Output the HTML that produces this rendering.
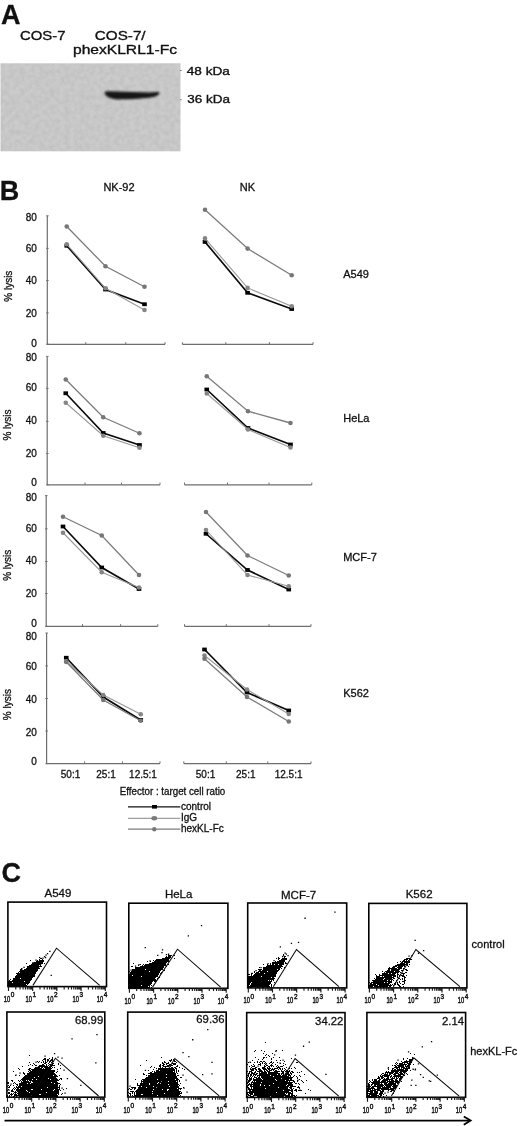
<!DOCTYPE html>
<html><head><meta charset="utf-8"><title>Figure</title>
<style>
html,body{margin:0;padding:0;background:#fff;}
svg{display:block;}
text{font-family:'Liberation Sans', Arial, sans-serif;fill:#111;stroke:#111;stroke-width:0.3px;}
.lb{stroke-width:0.45px;}
.hv{stroke-width:0.35px;}
</style></head><body>
<svg width="520" height="1126" viewBox="0 0 520 1126">
<defs>
<filter id="blur1" x="-20%" y="-50%" width="140%" height="200%"><feGaussianBlur stdDeviation="0.9"/></filter>
<filter id="soft" x="-2%" y="-2%" width="104%" height="104%"><feGaussianBlur stdDeviation="0.6"/></filter>
<filter id="noise" x="0" y="0" width="100%" height="100%"><feTurbulence type="fractalNoise" baseFrequency="0.2" numOctaves="2" seed="5" result="t"/><feColorMatrix in="t" type="matrix" values="0 0 0 0 0  0 0 0 0 0  0 0 0 0 0  0 0 0 -0.1 0.07"/><feComposite in2="SourceGraphic" operator="in"/></filter>
</defs>
<rect width="520" height="1126" fill="#fff"/>
<text x="0.9" y="23.8" font-size="27" font-weight="bold">A</text>
<text class="hv" x="20" y="39.9" font-size="13.3" textLength="45.5" lengthAdjust="spacingAndGlyphs">COS-7</text>
<text class="hv" x="94.8" y="40" font-size="13.3" textLength="50.8" lengthAdjust="spacingAndGlyphs">COS-7/</text>
<text class="hv" x="73" y="53.8" font-size="13.3" textLength="104" lengthAdjust="spacingAndGlyphs">phexKLRL1-Fc</text>
<rect x="0.5" y="63.3" width="180" height="88" fill="#cbcbcb" filter="url(#soft)"/>
<rect x="0.5" y="63.3" width="180" height="88" fill="#000" filter="url(#noise)"/>
<path d="M104.6,93.2 C104.4,91.6 106,91.2 110,91.3 L150,92.4 C154,92.3 157.5,91.8 159.3,92.3 C160,93.8 158.5,95.6 154.5,96.8 C146,98.6 132,99.4 118,99.4 C111,99.2 105.2,96.5 104.6,93.2 Z" fill="#141414" filter="url(#blur1)"/>
<rect x="180.3" y="70" width="1.2" height="1" fill="#555"/>
<rect x="180.3" y="99.2" width="1.2" height="1" fill="#555"/>
<text class="hv" x="186.8" y="74.5" font-size="11" textLength="43" lengthAdjust="spacingAndGlyphs">48 kDa</text>
<text class="hv" x="187.3" y="102.8" font-size="11" textLength="42.6" lengthAdjust="spacingAndGlyphs">36 kDa</text>
<text x="-0.3" y="199.9" font-size="27" font-weight="bold">B</text>
<text x="103.4" y="190.9" font-size="11">NK-92</text>
<text x="239.8" y="191.3" font-size="11">NK</text>
<path d="M47.3,215.8 V344.4 H165" fill="none" stroke="#6e6e6e" stroke-width="1.2"/>
<path d="M46.1,344.2 h2.6" stroke="#6e6e6e" stroke-width="0.9"/>
<text x="36.8" y="346.9" font-size="10" text-anchor="end">0</text>
<path d="M46.1,312.9 h2.6" stroke="#6e6e6e" stroke-width="0.9"/>
<text x="36.8" y="317.1" font-size="10" text-anchor="end">20</text>
<path d="M46.1,280.5 h2.6" stroke="#6e6e6e" stroke-width="0.9"/>
<text x="36.8" y="284.4" font-size="10" text-anchor="end">40</text>
<path d="M46.1,248.4 h2.6" stroke="#6e6e6e" stroke-width="0.9"/>
<text x="36.8" y="252" font-size="10" text-anchor="end">60</text>
<path d="M46.1,215.8 h2.6" stroke="#6e6e6e" stroke-width="0.9"/>
<text x="36.8" y="221.3" font-size="10" text-anchor="end">80</text>
<path d="M85.75,344.4 v-2.2" stroke="#6e6e6e" stroke-width="1"/>
<path d="M125.75,344.4 v-2.2" stroke="#6e6e6e" stroke-width="1"/>
<path d="M165,344.4 v-2.2" stroke="#6e6e6e" stroke-width="1"/>
<path d="M182.4,344.4 H313" fill="none" stroke="#6e6e6e" stroke-width="1.2"/>
<path d="M182.4,344.4 v-2.2" stroke="#6e6e6e" stroke-width="1"/>
<path d="M225.8,344.4 v-2.2" stroke="#6e6e6e" stroke-width="1"/>
<path d="M269.4,344.4 v-2.2" stroke="#6e6e6e" stroke-width="1"/>
<path d="M313,344.4 v-2.2" stroke="#6e6e6e" stroke-width="1"/>
<text transform="translate(11.6,286.2) rotate(-90)" font-size="10" text-anchor="middle">% lysis</text>
<text x="343.2" y="278.3" font-size="11">A549</text>
<polyline points="66.75,245.75 105.5,289.5 144.5,304.25" fill="none" stroke="#0a0a0a" stroke-width="1.65"/>
<rect x="64.45" y="243.85" width="4.6" height="3.8" fill="#000"/>
<rect x="103.2" y="287.6" width="4.6" height="3.8" fill="#000"/>
<rect x="142.2" y="302.35" width="4.6" height="3.8" fill="#000"/>
<polyline points="66.75,244.25 105.5,288.25 144.5,310" fill="none" stroke="#999" stroke-width="1.1"/>
<circle cx="66.75" cy="244.25" r="2.3" fill="#858585"/>
<circle cx="105.5" cy="288.25" r="2.3" fill="#858585"/>
<circle cx="144.5" cy="310" r="2.3" fill="#858585"/>
<polyline points="66.75,226.5 105.5,266.25 144.5,286.75" fill="none" stroke="#7c7c7c" stroke-width="1.3"/>
<circle cx="66.75" cy="226.5" r="2.3" fill="#777"/>
<circle cx="105.5" cy="266.25" r="2.3" fill="#777"/>
<circle cx="144.5" cy="286.75" r="2.3" fill="#777"/>
<polyline points="205,241.9 247.6,292.8 291.7,309" fill="none" stroke="#0a0a0a" stroke-width="1.65"/>
<rect x="202.7" y="240" width="4.6" height="3.8" fill="#000"/>
<rect x="245.3" y="290.9" width="4.6" height="3.8" fill="#000"/>
<rect x="289.4" y="307.1" width="4.6" height="3.8" fill="#000"/>
<polyline points="205,238.4 247.6,287.9 291.7,306.2" fill="none" stroke="#999" stroke-width="1.1"/>
<circle cx="205" cy="238.4" r="2.3" fill="#858585"/>
<circle cx="247.6" cy="287.9" r="2.3" fill="#858585"/>
<circle cx="291.7" cy="306.2" r="2.3" fill="#858585"/>
<polyline points="205,209.8 247.6,248.6 291.7,275.3" fill="none" stroke="#7c7c7c" stroke-width="1.3"/>
<circle cx="205" cy="209.8" r="2.3" fill="#777"/>
<circle cx="247.6" cy="248.6" r="2.3" fill="#777"/>
<circle cx="291.7" cy="275.3" r="2.3" fill="#777"/>
<path d="M47.2,356.4 V484.8 H160" fill="none" stroke="#6e6e6e" stroke-width="1.2"/>
<path d="M46,484.8 h2.6" stroke="#6e6e6e" stroke-width="0.9"/>
<text x="36.8" y="486.2" font-size="10" text-anchor="end">0</text>
<path d="M46,453.5 h2.6" stroke="#6e6e6e" stroke-width="0.9"/>
<text x="36.8" y="456.5" font-size="10" text-anchor="end">20</text>
<path d="M46,421.4 h2.6" stroke="#6e6e6e" stroke-width="0.9"/>
<text x="36.8" y="423.5" font-size="10" text-anchor="end">40</text>
<path d="M46,388.4 h2.6" stroke="#6e6e6e" stroke-width="0.9"/>
<text x="36.8" y="391.2" font-size="10" text-anchor="end">60</text>
<path d="M46,356.4 h2.6" stroke="#6e6e6e" stroke-width="0.9"/>
<text x="36.8" y="360.9" font-size="10" text-anchor="end">80</text>
<path d="M85,484.8 v-2.2" stroke="#6e6e6e" stroke-width="1"/>
<path d="M121.5,484.8 v-2.2" stroke="#6e6e6e" stroke-width="1"/>
<path d="M160,484.8 v-2.2" stroke="#6e6e6e" stroke-width="1"/>
<path d="M184.5,484.8 H311.8" fill="none" stroke="#6e6e6e" stroke-width="1.2"/>
<path d="M184.5,484.8 v-2.2" stroke="#6e6e6e" stroke-width="1"/>
<path d="M227.5,484.8 v-2.2" stroke="#6e6e6e" stroke-width="1"/>
<path d="M269,484.8 v-2.2" stroke="#6e6e6e" stroke-width="1"/>
<path d="M311.8,484.8 v-2.2" stroke="#6e6e6e" stroke-width="1"/>
<text transform="translate(10.8,425) rotate(-90)" font-size="10" text-anchor="middle">% lysis</text>
<text x="343.2" y="421.7" font-size="11">HeLa</text>
<polyline points="65.75,393.25 103.25,433 139.5,445" fill="none" stroke="#0a0a0a" stroke-width="1.65"/>
<rect x="63.45" y="391.35" width="4.6" height="3.8" fill="#000"/>
<rect x="100.95" y="431.1" width="4.6" height="3.8" fill="#000"/>
<rect x="137.2" y="443.1" width="4.6" height="3.8" fill="#000"/>
<polyline points="65.75,402.75 103.25,435.75 139.5,447.75" fill="none" stroke="#999" stroke-width="1.1"/>
<circle cx="65.75" cy="402.75" r="2.3" fill="#858585"/>
<circle cx="103.25" cy="435.75" r="2.3" fill="#858585"/>
<circle cx="139.5" cy="447.75" r="2.3" fill="#858585"/>
<polyline points="65.75,379.5 103.25,417.25 139.5,433.25" fill="none" stroke="#7c7c7c" stroke-width="1.3"/>
<circle cx="65.75" cy="379.5" r="2.3" fill="#777"/>
<circle cx="103.25" cy="417.25" r="2.3" fill="#777"/>
<circle cx="139.5" cy="433.25" r="2.3" fill="#777"/>
<polyline points="206.75,389.5 248,428 290.5,444.5" fill="none" stroke="#0a0a0a" stroke-width="1.65"/>
<rect x="204.45" y="387.6" width="4.6" height="3.8" fill="#000"/>
<rect x="245.7" y="426.1" width="4.6" height="3.8" fill="#000"/>
<rect x="288.2" y="442.6" width="4.6" height="3.8" fill="#000"/>
<polyline points="206.75,393.5 248,429.5 290.5,447.5" fill="none" stroke="#999" stroke-width="1.1"/>
<circle cx="206.75" cy="393.5" r="2.3" fill="#858585"/>
<circle cx="248" cy="429.5" r="2.3" fill="#858585"/>
<circle cx="290.5" cy="447.5" r="2.3" fill="#858585"/>
<polyline points="206.75,376.25 248,411.25 290.5,423" fill="none" stroke="#7c7c7c" stroke-width="1.3"/>
<circle cx="206.75" cy="376.25" r="2.3" fill="#777"/>
<circle cx="248" cy="411.25" r="2.3" fill="#777"/>
<circle cx="290.5" cy="423" r="2.3" fill="#777"/>
<path d="M46.2,495.6 V626.4 H157.8" fill="none" stroke="#6e6e6e" stroke-width="1.2"/>
<path d="M45,626.4 h2.6" stroke="#6e6e6e" stroke-width="0.9"/>
<text x="36.8" y="626.7" font-size="10" text-anchor="end">0</text>
<path d="M45,593.5 h2.6" stroke="#6e6e6e" stroke-width="0.9"/>
<text x="36.8" y="596.8" font-size="10" text-anchor="end">20</text>
<path d="M45,561.5 h2.6" stroke="#6e6e6e" stroke-width="0.9"/>
<text x="36.8" y="563.9" font-size="10" text-anchor="end">40</text>
<path d="M45,528.8 h2.6" stroke="#6e6e6e" stroke-width="0.9"/>
<text x="36.8" y="531.5" font-size="10" text-anchor="end">60</text>
<path d="M45,495.6 h2.6" stroke="#6e6e6e" stroke-width="0.9"/>
<text x="36.8" y="501.1" font-size="10" text-anchor="end">80</text>
<path d="M82.5,626.4 v-2.2" stroke="#6e6e6e" stroke-width="1"/>
<path d="M120.6,626.4 v-2.2" stroke="#6e6e6e" stroke-width="1"/>
<path d="M157.8,626.4 v-2.2" stroke="#6e6e6e" stroke-width="1"/>
<path d="M184.5,626.4 H311" fill="none" stroke="#6e6e6e" stroke-width="1.2"/>
<path d="M184.5,626.4 v-2.2" stroke="#6e6e6e" stroke-width="1"/>
<path d="M226.3,626.4 v-2.2" stroke="#6e6e6e" stroke-width="1"/>
<path d="M269,626.4 v-2.2" stroke="#6e6e6e" stroke-width="1"/>
<path d="M311,626.4 v-2.2" stroke="#6e6e6e" stroke-width="1"/>
<text transform="translate(10.8,565.3) rotate(-90)" font-size="10" text-anchor="middle">% lysis</text>
<text x="343.2" y="560.8" font-size="11">MCF-7</text>
<polyline points="63,526.5 101.75,567.5 139,589" fill="none" stroke="#0a0a0a" stroke-width="1.65"/>
<rect x="60.7" y="524.6" width="4.6" height="3.8" fill="#000"/>
<rect x="99.45" y="565.6" width="4.6" height="3.8" fill="#000"/>
<rect x="136.7" y="587.1" width="4.6" height="3.8" fill="#000"/>
<polyline points="63,532.75 101.75,572.25 139,587.5" fill="none" stroke="#999" stroke-width="1.1"/>
<circle cx="63" cy="532.75" r="2.3" fill="#858585"/>
<circle cx="101.75" cy="572.25" r="2.3" fill="#858585"/>
<circle cx="139" cy="587.5" r="2.3" fill="#858585"/>
<polyline points="63,516.75 101.75,535.5 139,575" fill="none" stroke="#7c7c7c" stroke-width="1.3"/>
<circle cx="63" cy="516.75" r="2.3" fill="#777"/>
<circle cx="101.75" cy="535.5" r="2.3" fill="#777"/>
<circle cx="139" cy="575" r="2.3" fill="#777"/>
<polyline points="206,533.75 247.5,570 288.75,589.5" fill="none" stroke="#0a0a0a" stroke-width="1.65"/>
<rect x="203.7" y="531.85" width="4.6" height="3.8" fill="#000"/>
<rect x="245.2" y="568.1" width="4.6" height="3.8" fill="#000"/>
<rect x="286.45" y="587.6" width="4.6" height="3.8" fill="#000"/>
<polyline points="206,530 247.5,575 288.75,586.25" fill="none" stroke="#999" stroke-width="1.1"/>
<circle cx="206" cy="530" r="2.3" fill="#858585"/>
<circle cx="247.5" cy="575" r="2.3" fill="#858585"/>
<circle cx="288.75" cy="586.25" r="2.3" fill="#858585"/>
<polyline points="206,512 247.5,555.5 288.75,575.5" fill="none" stroke="#7c7c7c" stroke-width="1.3"/>
<circle cx="206" cy="512" r="2.3" fill="#777"/>
<circle cx="247.5" cy="555.5" r="2.3" fill="#777"/>
<circle cx="288.75" cy="575.5" r="2.3" fill="#777"/>
<path d="M46.6,633 V763.6 H160" fill="none" stroke="#6e6e6e" stroke-width="1.2"/>
<path d="M45.4,763.6 h2.6" stroke="#6e6e6e" stroke-width="0.9"/>
<text x="36.8" y="765.3" font-size="10" text-anchor="end">0</text>
<path d="M45.4,731 h2.6" stroke="#6e6e6e" stroke-width="0.9"/>
<text x="36.8" y="735.5" font-size="10" text-anchor="end">20</text>
<path d="M45.4,698.5 h2.6" stroke="#6e6e6e" stroke-width="0.9"/>
<text x="36.8" y="702.5" font-size="10" text-anchor="end">40</text>
<path d="M45.4,665.9 h2.6" stroke="#6e6e6e" stroke-width="0.9"/>
<text x="36.8" y="670.2" font-size="10" text-anchor="end">60</text>
<path d="M45.4,633 h2.6" stroke="#6e6e6e" stroke-width="0.9"/>
<text x="36.8" y="640.1" font-size="10" text-anchor="end">80</text>
<path d="M84.6,763.6 v-2.2" stroke="#6e6e6e" stroke-width="1"/>
<path d="M122.5,763.6 v-2.2" stroke="#6e6e6e" stroke-width="1"/>
<path d="M160,763.6 v-2.2" stroke="#6e6e6e" stroke-width="1"/>
<path d="M183.8,763.6 H311" fill="none" stroke="#6e6e6e" stroke-width="1.2"/>
<path d="M183.8,763.6 v-2.2" stroke="#6e6e6e" stroke-width="1"/>
<path d="M226.3,763.6 v-2.2" stroke="#6e6e6e" stroke-width="1"/>
<path d="M267.8,763.6 v-2.2" stroke="#6e6e6e" stroke-width="1"/>
<path d="M311,763.6 v-2.2" stroke="#6e6e6e" stroke-width="1"/>
<text transform="translate(10.8,704.6) rotate(-90)" font-size="10" text-anchor="middle">% lysis</text>
<text x="343.2" y="696.7" font-size="11">K562</text>
<polyline points="66.25,657.75 103.25,697 140.75,720" fill="none" stroke="#0a0a0a" stroke-width="1.65"/>
<rect x="63.95" y="655.85" width="4.6" height="3.8" fill="#000"/>
<rect x="100.95" y="695.1" width="4.6" height="3.8" fill="#000"/>
<rect x="138.45" y="718.1" width="4.6" height="3.8" fill="#000"/>
<polyline points="66.25,661.25 103.25,695 140.75,714.25" fill="none" stroke="#999" stroke-width="1.1"/>
<circle cx="66.25" cy="661.25" r="2.3" fill="#858585"/>
<circle cx="103.25" cy="695" r="2.3" fill="#858585"/>
<circle cx="140.75" cy="714.25" r="2.3" fill="#858585"/>
<polyline points="66.25,662 103.25,700 140.75,720.75" fill="none" stroke="#7c7c7c" stroke-width="1.3"/>
<circle cx="66.25" cy="662" r="2.3" fill="#777"/>
<circle cx="103.25" cy="700" r="2.3" fill="#777"/>
<circle cx="140.75" cy="720.75" r="2.3" fill="#777"/>
<polyline points="204.5,649.5 247,692.5 288.75,710.5" fill="none" stroke="#0a0a0a" stroke-width="1.65"/>
<rect x="202.2" y="647.6" width="4.6" height="3.8" fill="#000"/>
<rect x="244.7" y="690.6" width="4.6" height="3.8" fill="#000"/>
<rect x="286.45" y="708.6" width="4.6" height="3.8" fill="#000"/>
<polyline points="204.5,655.5 247,689.5 288.75,714" fill="none" stroke="#999" stroke-width="1.1"/>
<circle cx="204.5" cy="655.5" r="2.3" fill="#858585"/>
<circle cx="247" cy="689.5" r="2.3" fill="#858585"/>
<circle cx="288.75" cy="714" r="2.3" fill="#858585"/>
<polyline points="204.5,658.75 247,697 288.75,721.5" fill="none" stroke="#7c7c7c" stroke-width="1.3"/>
<circle cx="204.5" cy="658.75" r="2.3" fill="#777"/>
<circle cx="247" cy="697" r="2.3" fill="#777"/>
<circle cx="288.75" cy="721.5" r="2.3" fill="#777"/>
<text x="70.5" y="778" font-size="10" text-anchor="middle">50:1</text>
<text x="106" y="778" font-size="10" text-anchor="middle">25:1</text>
<text x="143" y="778" font-size="10" text-anchor="middle">12.5:1</text>
<text x="205.5" y="778" font-size="10" text-anchor="middle">50:1</text>
<text x="245.8" y="778" font-size="10" text-anchor="middle">25:1</text>
<text x="288.6" y="778" font-size="10" text-anchor="middle">12.5:1</text>
<text x="119.8" y="794.5" font-size="10" textLength="105.5" lengthAdjust="spacingAndGlyphs">Effector : target cell ratio</text>
<path d="M128,806.8 H180.3" stroke="#111" stroke-width="1.3"/>
<rect x="152" y="805" width="5" height="3.6" fill="#000"/>
<text x="181" y="810.1" font-size="10">control</text>
<path d="M128,818.3 H180.3" stroke="#a0a0a0" stroke-width="1.2"/>
<ellipse cx="154.3" cy="818.3" rx="2.9" ry="2.2" fill="#7a7a7a"/>
<text x="181" y="820.9" font-size="10">IgG</text>
<path d="M128,829.2 H180.3" stroke="#7d7d7d" stroke-width="1.2"/>
<circle cx="154.3" cy="829.2" r="2.2" fill="#777"/>
<text x="181" y="832.3" font-size="10">hexKL-Fc</text>
<text x="1.4" y="881.9" font-size="27" font-weight="bold">C</text>
<text x="44.5" y="897.2" font-size="11.5">A549</text>
<text x="164.9" y="897.6" font-size="11.5">HeLa</text>
<text x="281" y="898.9" font-size="11.5">MCF-7</text>
<text x="405.7" y="898" font-size="11.5">K562</text>
<text x="471.6" y="948.1" font-size="11">control</text>
<text x="470.2" y="1055" font-size="11">hexKL-Fc</text>
<path d="M39 957h1v1h-1zM40 958h2v1h-2zM39 959h1v1h-1zM42 959h1v1h-1zM30 960h1v1h-1zM37 960h1v1h-1zM39 960h5v1h-5zM36 961h8v1h-8zM34 962h9v1h-9zM26 963h1v1h-1zM32 963h11v1h-11zM44 963h1v1h-1zM31 964h10v1h-10zM29 965h10v1h-10zM40 965h1v1h-1zM27 966h15v1h-15zM27 967h12v1h-12zM21 968h1v1h-1zM26 968h14v1h-14zM20 969h2v1h-2zM24 969h14v1h-14zM20 970h18v1h-18zM19 971h18v1h-18zM18 972h1v1h-1zM20 972h16v1h-16zM16 973h20v1h-20zM17 974h18v1h-18zM16 975h19v1h-19zM15 976h20v1h-20zM15 977h18v1h-18zM13 978h7v1h-7zM21 978h11v1h-11zM10 979h1v1h-1zM13 979h19v1h-19zM9 980h1v1h-1zM12 980h19v1h-19zM8 981h16v1h-16zM25 981h5v1h-5zM8 982h4v1h-4zM13 982h17v1h-17zM8 983h21v1h-21zM8 984h18v1h-18zM27 984h1v1h-1zM8 985h19v1h-19zM43.9 955.9h1.3v1.3h-1.3zM45.4 954.4h1.3v1.3h-1.3zM46.9 952.9h1.3v1.3h-1.3zM49.2 950.7h1.3v1.3h-1.3zM44.9 956.9h1.3v1.3h-1.3zM42.4 957.4h1.3v1.3h-1.3zM39.9 957.8h1.3v1.3h-1.3zM23.4 966.7h1.3v1.3h-1.3zM21.4 968.2h1.3v1.3h-1.3zM50.6 974.7h1.3v1.3h-1.3zM40.6 963h1.3v1.3h-1.3zM38 966.2h1.3v1.3h-1.3zM26.9 965.9h1.3v1.3h-1.3zM32.4 961.9h1.3v1.3h-1.3zM35.4 959.4h1.3v1.3h-1.3z" fill="#000"/>
<rect x="7.9" y="902.1" width="98.6" height="84.5" fill="none" stroke="#000" stroke-width="1.6"/>
<path d="M32.9,985.4 L56.5,948.2 L99.7,985.4" fill="none" stroke="#0a0a0a" stroke-width="1.05"/>
<path d="M8.5,986.6 v4.5 M15.78,986.6 v2.8 M20.05,986.6 v2.8 M23.07,986.6 v2.8 M25.42,986.6 v2.8 M27.33,986.6 v2.8 M28.95,986.6 v2.8 M30.35,986.6 v2.8 M31.59,986.6 v2.8 M32.7,986.6 v4.5 M39.98,986.6 v2.8 M44.25,986.6 v2.8 M47.27,986.6 v2.8 M49.62,986.6 v2.8 M51.53,986.6 v2.8 M53.15,986.6 v2.8 M54.55,986.6 v2.8 M55.79,986.6 v2.8 M56.9,986.6 v4.5 M64.18,986.6 v2.8 M68.45,986.6 v2.8 M71.47,986.6 v2.8 M73.82,986.6 v2.8 M75.73,986.6 v2.8 M77.35,986.6 v2.8 M78.75,986.6 v2.8 M79.99,986.6 v2.8 M81.1,986.6 v4.5 M88.38,986.6 v2.8 M92.65,986.6 v2.8 M95.67,986.6 v2.8 M98.02,986.6 v2.8 M99.93,986.6 v2.8 M101.55,986.6 v2.8 M102.95,986.6 v2.8 M104.19,986.6 v2.8 M105.3,986.6 v4.5" stroke="#1a1a1a" stroke-width="1.15"/>
<text x="3.7" y="1001.9" font-size="8.6" textLength="6.4" lengthAdjust="spacingAndGlyphs" class="lb">10</text>
<text x="10.7" y="997.3" font-size="7.4" textLength="3.6" lengthAdjust="spacingAndGlyphs" class="lb">0</text>
<text x="25.5" y="1001.9" font-size="8.6" textLength="6.4" lengthAdjust="spacingAndGlyphs" class="lb">10</text>
<text x="32.5" y="997.3" font-size="7.4" textLength="3.6" lengthAdjust="spacingAndGlyphs" class="lb">1</text>
<text x="47.1" y="1001.9" font-size="8.6" textLength="6.4" lengthAdjust="spacingAndGlyphs" class="lb">10</text>
<text x="54.1" y="997.3" font-size="7.4" textLength="3.6" lengthAdjust="spacingAndGlyphs" class="lb">2</text>
<text x="72.6" y="1001.9" font-size="8.6" textLength="6.4" lengthAdjust="spacingAndGlyphs" class="lb">10</text>
<text x="79.6" y="997.3" font-size="7.4" textLength="3.6" lengthAdjust="spacingAndGlyphs" class="lb">3</text>
<text x="96.8" y="1001.9" font-size="8.6" textLength="6.4" lengthAdjust="spacingAndGlyphs" class="lb">10</text>
<text x="103.8" y="997.3" font-size="7.4" textLength="3.6" lengthAdjust="spacingAndGlyphs" class="lb">4</text>
<path d="M168 955h4v1h-4zM174 955h1v1h-1zM166 956h1v1h-1zM168 956h3v1h-3zM165 957h6v1h-6zM162 958h8v1h-8zM174 958h1v1h-1zM156 959h13v1h-13zM153 960h1v1h-1zM155 960h14v1h-14zM147 961h1v1h-1zM150 961h1v1h-1zM154 961h15v1h-15zM152 962h15v1h-15zM133 963h1v1h-1zM149 963h17v1h-17zM140 964h1v1h-1zM143 964h1v1h-1zM145 964h21v1h-21zM167 964h2v1h-2zM138 965h1v1h-1zM142 965h1v1h-1zM144 965h22v1h-22zM131 966h2v1h-2zM140 966h24v1h-24zM166 966h1v1h-1zM135 967h29v1h-29zM135 968h28v1h-28zM132 969h13v1h-13zM146 969h17v1h-17zM132 970h29v1h-29zM164 970h1v1h-1zM129 971h1v1h-1zM131 971h18v1h-18zM150 971h10v1h-10zM130 972h30v1h-30zM161 972h1v1h-1zM130 973h29v1h-29zM160 973h1v1h-1zM129 974h30v1h-30zM129 975h3v1h-3zM133 975h25v1h-25zM129 976h12v1h-12zM142 976h16v1h-16zM129 977h27v1h-27zM158 977h2v1h-2zM129 978h26v1h-26zM157 978h1v1h-1zM129 979h27v1h-27zM129 980h28v1h-28zM129 981h24v1h-24zM154 981h2v1h-2zM129 982h23v1h-23zM129 983h23v1h-23zM129 984h22v1h-22zM129 985h12v1h-12zM142 985h8v1h-8zM151 985h1v1h-1zM129 986h19v1h-19zM149 986h1v1h-1zM129 987h21v1h-21zM151 987h1v1h-1zM144.6 947h1.3v1.3h-1.3zM161.3 952h1.3v1.3h-1.3zM157.1 954.8h1.3v1.3h-1.3zM165.8 954h1.3v1.3h-1.3zM161.9 949.2h1.3v1.3h-1.3zM187.7 935.2h1.3v1.3h-1.3zM200.9 924.9h1.3v1.3h-1.3zM149.4 960.2h1.3v1.3h-1.3zM138.4 963.9h1.3v1.3h-1.3zM134.9 965.4h1.3v1.3h-1.3zM167.9 953.6h1.3v1.3h-1.3zM130.4 969.4h1.3v1.3h-1.3z" fill="#000"/>
<rect x="128.8" y="903.2" width="99.1" height="85.1" fill="none" stroke="#000" stroke-width="1.6"/>
<path d="M152.5,987.1 L177.5,949.2 L220.6,987.1" fill="none" stroke="#0a0a0a" stroke-width="1.05"/>
<path d="M129.4,988.3 v4.5 M136.68,988.3 v2.8 M140.95,988.3 v2.8 M143.97,988.3 v2.8 M146.32,988.3 v2.8 M148.23,988.3 v2.8 M149.85,988.3 v2.8 M151.25,988.3 v2.8 M152.49,988.3 v2.8 M153.6,988.3 v4.5 M160.88,988.3 v2.8 M165.15,988.3 v2.8 M168.17,988.3 v2.8 M170.52,988.3 v2.8 M172.43,988.3 v2.8 M174.05,988.3 v2.8 M175.45,988.3 v2.8 M176.69,988.3 v2.8 M177.8,988.3 v4.5 M185.08,988.3 v2.8 M189.35,988.3 v2.8 M192.37,988.3 v2.8 M194.72,988.3 v2.8 M196.63,988.3 v2.8 M198.25,988.3 v2.8 M199.65,988.3 v2.8 M200.89,988.3 v2.8 M202,988.3 v4.5 M209.28,988.3 v2.8 M213.55,988.3 v2.8 M216.57,988.3 v2.8 M218.92,988.3 v2.8 M220.83,988.3 v2.8 M222.45,988.3 v2.8 M223.85,988.3 v2.8 M225.09,988.3 v2.8 M226.2,988.3 v4.5" stroke="#1a1a1a" stroke-width="1.15"/>
<text x="124.6" y="1003.6" font-size="8.6" textLength="6.4" lengthAdjust="spacingAndGlyphs" class="lb">10</text>
<text x="131.6" y="999" font-size="7.4" textLength="3.6" lengthAdjust="spacingAndGlyphs" class="lb">0</text>
<text x="146.4" y="1003.6" font-size="8.6" textLength="6.4" lengthAdjust="spacingAndGlyphs" class="lb">10</text>
<text x="153.4" y="999" font-size="7.4" textLength="3.6" lengthAdjust="spacingAndGlyphs" class="lb">1</text>
<text x="168" y="1003.6" font-size="8.6" textLength="6.4" lengthAdjust="spacingAndGlyphs" class="lb">10</text>
<text x="175" y="999" font-size="7.4" textLength="3.6" lengthAdjust="spacingAndGlyphs" class="lb">2</text>
<text x="193.5" y="1003.6" font-size="8.6" textLength="6.4" lengthAdjust="spacingAndGlyphs" class="lb">10</text>
<text x="200.5" y="999" font-size="7.4" textLength="3.6" lengthAdjust="spacingAndGlyphs" class="lb">3</text>
<text x="217.7" y="1003.6" font-size="8.6" textLength="6.4" lengthAdjust="spacingAndGlyphs" class="lb">10</text>
<text x="224.7" y="999" font-size="7.4" textLength="3.6" lengthAdjust="spacingAndGlyphs" class="lb">4</text>
<path d="M283 954h1v1h-1zM283 955h1v1h-1zM284 956h2v1h-2zM278 957h1v1h-1zM284 957h1v1h-1zM276 958h1v1h-1zM278 958h2v1h-2zM282 958h5v1h-5zM278 959h1v1h-1zM281 959h6v1h-6zM279 960h6v1h-6zM275 961h1v1h-1zM277 961h8v1h-8zM272 962h12v1h-12zM285 962h1v1h-1zM270 963h1v1h-1zM272 963h12v1h-12zM285 963h2v1h-2zM263 964h1v1h-1zM267 964h1v1h-1zM270 964h1v1h-1zM272 964h2v1h-2zM275 964h3v1h-3zM279 964h5v1h-5zM267 965h15v1h-15zM266 966h17v1h-17zM259 967h1v1h-1zM263 967h18v1h-18zM284 967h1v1h-1zM263 968h17v1h-17zM281 968h1v1h-1zM258 969h4v1h-4zM263 969h14v1h-14zM278 969h2v1h-2zM259 970h2v1h-2zM262 970h17v1h-17zM254 971h1v1h-1zM258 971h9v1h-9zM268 971h10v1h-10zM254 972h1v1h-1zM256 972h3v1h-3zM260 972h17v1h-17zM251 973h2v1h-2zM255 973h9v1h-9zM265 973h12v1h-12zM248 974h2v1h-2zM251 974h1v1h-1zM254 974h22v1h-22zM251 975h1v1h-1zM253 975h23v1h-23zM248 976h13v1h-13zM262 976h14v1h-14zM248 977h23v1h-23zM272 977h2v1h-2zM248 978h27v1h-27zM248 979h26v1h-26zM248 980h20v1h-20zM269 980h1v1h-1zM271 980h1v1h-1zM273 980h1v1h-1zM248 981h24v1h-24zM248 982h3v1h-3zM252 982h19v1h-19zM274 982h1v1h-1zM248 983h2v1h-2zM251 983h20v1h-20zM248 984h2v1h-2zM251 984h19v1h-19zM271 984h1v1h-1zM274 984h1v1h-1zM248 985h1v1h-1zM250 985h19v1h-19zM271 985h1v1h-1zM248 986h22v1h-22zM271 986h1v1h-1zM248 987h1v1h-1zM250 987h2v1h-2zM257 987h2v1h-2zM262 987h2v1h-2zM267 987h1v1h-1zM270 987h1v1h-1zM279.7 946.2h1.3v1.3h-1.3zM290.8 942.8h1.3v1.3h-1.3zM297.9 941.8h1.3v1.3h-1.3zM304.4 917.6h1.3v1.3h-1.3zM334.3 911.5h1.3v1.3h-1.3zM285.7 953.5h1.3v1.3h-1.3zM282.9 954.9h1.3v1.3h-1.3zM281.9 956h1.3v1.3h-1.3zM273.4 960h1.3v1.3h-1.3zM267.4 962.9h1.3v1.3h-1.3zM260.4 967h1.3v1.3h-1.3zM255.4 969.9h1.3v1.3h-1.3zM251.4 972.8h1.3v1.3h-1.3zM287.4 954.9h1.3v1.3h-1.3zM284.4 952.4h1.3v1.3h-1.3z" fill="#000"/>
<rect x="247.7" y="903" width="99" height="84.9" fill="none" stroke="#000" stroke-width="1.6"/>
<path d="M273.3,986.7 L296.5,949.5 L338.9,986.7" fill="none" stroke="#0a0a0a" stroke-width="1.05"/>
<path d="M248.3,987.9 v4.5 M255.58,987.9 v2.8 M259.85,987.9 v2.8 M262.87,987.9 v2.8 M265.22,987.9 v2.8 M267.13,987.9 v2.8 M268.75,987.9 v2.8 M270.15,987.9 v2.8 M271.39,987.9 v2.8 M272.5,987.9 v4.5 M279.78,987.9 v2.8 M284.05,987.9 v2.8 M287.07,987.9 v2.8 M289.42,987.9 v2.8 M291.33,987.9 v2.8 M292.95,987.9 v2.8 M294.35,987.9 v2.8 M295.59,987.9 v2.8 M296.7,987.9 v4.5 M303.98,987.9 v2.8 M308.25,987.9 v2.8 M311.27,987.9 v2.8 M313.62,987.9 v2.8 M315.53,987.9 v2.8 M317.15,987.9 v2.8 M318.55,987.9 v2.8 M319.79,987.9 v2.8 M320.9,987.9 v4.5 M328.18,987.9 v2.8 M332.45,987.9 v2.8 M335.47,987.9 v2.8 M337.82,987.9 v2.8 M339.73,987.9 v2.8 M341.35,987.9 v2.8 M342.75,987.9 v2.8 M343.99,987.9 v2.8 M345.1,987.9 v4.5" stroke="#1a1a1a" stroke-width="1.15"/>
<text x="243.5" y="1003.2" font-size="8.6" textLength="6.4" lengthAdjust="spacingAndGlyphs" class="lb">10</text>
<text x="250.5" y="998.6" font-size="7.4" textLength="3.6" lengthAdjust="spacingAndGlyphs" class="lb">0</text>
<text x="265.3" y="1003.2" font-size="8.6" textLength="6.4" lengthAdjust="spacingAndGlyphs" class="lb">10</text>
<text x="272.3" y="998.6" font-size="7.4" textLength="3.6" lengthAdjust="spacingAndGlyphs" class="lb">1</text>
<text x="286.9" y="1003.2" font-size="8.6" textLength="6.4" lengthAdjust="spacingAndGlyphs" class="lb">10</text>
<text x="293.9" y="998.6" font-size="7.4" textLength="3.6" lengthAdjust="spacingAndGlyphs" class="lb">2</text>
<text x="312.4" y="1003.2" font-size="8.6" textLength="6.4" lengthAdjust="spacingAndGlyphs" class="lb">10</text>
<text x="319.4" y="998.6" font-size="7.4" textLength="3.6" lengthAdjust="spacingAndGlyphs" class="lb">3</text>
<text x="336.6" y="1003.2" font-size="8.6" textLength="6.4" lengthAdjust="spacingAndGlyphs" class="lb">10</text>
<text x="343.6" y="998.6" font-size="7.4" textLength="3.6" lengthAdjust="spacingAndGlyphs" class="lb">4</text>
<path d="M406 958h4v1h-4zM404 959h4v1h-4zM409 959h3v1h-3zM403 960h2v1h-2zM406 960h1v1h-1zM408 960h1v1h-1zM400 961h1v1h-1zM402 961h6v1h-6zM409 961h1v1h-1zM397 962h1v1h-1zM401 962h2v1h-2zM404 962h6v1h-6zM400 963h5v1h-5zM406 963h1v1h-1zM397 964h11v1h-11zM409 964h1v1h-1zM395 965h10v1h-10zM407 965h1v1h-1zM393 966h4v1h-4zM398 966h5v1h-5zM404 966h1v1h-1zM408 966h1v1h-1zM389 967h1v1h-1zM392 967h3v1h-3zM397 967h5v1h-5zM388 968h9v1h-9zM398 968h4v1h-4zM403 968h1v1h-1zM388 969h2v1h-2zM391 969h9v1h-9zM405 969h2v1h-2zM387 970h3v1h-3zM391 970h8v1h-8zM401 970h2v1h-2zM406 970h2v1h-2zM382 971h1v1h-1zM385 971h9v1h-9zM395 971h5v1h-5zM384 972h1v1h-1zM386 972h13v1h-13zM400 972h1v1h-1zM405 972h2v1h-2zM382 973h6v1h-6zM389 973h2v1h-2zM392 973h4v1h-4zM397 973h1v1h-1zM402 973h3v1h-3zM375 974h1v1h-1zM379 974h1v1h-1zM382 974h13v1h-13zM397 974h2v1h-2zM400 974h1v1h-1zM403 974h1v1h-1zM376 975h1v1h-1zM379 975h17v1h-17zM397 975h1v1h-1zM399 975h1v1h-1zM401 975h3v1h-3zM406 975h1v1h-1zM376 976h4v1h-4zM382 976h1v1h-1zM384 976h8v1h-8zM393 976h3v1h-3zM397 976h1v1h-1zM399 976h1v1h-1zM402 976h3v1h-3zM376 977h18v1h-18zM397 977h1v1h-1zM404 977h2v1h-2zM374 978h1v1h-1zM376 978h8v1h-8zM385 978h7v1h-7zM393 978h2v1h-2zM398 978h2v1h-2zM402 978h1v1h-1zM404 978h1v1h-1zM375 979h8v1h-8zM384 979h9v1h-9zM400 979h1v1h-1zM402 979h1v1h-1zM404 979h1v1h-1zM372 980h15v1h-15zM388 980h2v1h-2zM391 980h1v1h-1zM393 980h1v1h-1zM396 980h1v1h-1zM404 980h2v1h-2zM373 981h19v1h-19zM399 981h1v1h-1zM402 981h3v1h-3zM369 982h1v1h-1zM371 982h13v1h-13zM385 982h2v1h-2zM388 982h4v1h-4zM395 982h1v1h-1zM397 982h1v1h-1zM399 982h1v1h-1zM404 982h1v1h-1zM370 983h2v1h-2zM373 983h17v1h-17zM394 983h2v1h-2zM397 983h1v1h-1zM400 983h1v1h-1zM404 983h1v1h-1zM370 984h6v1h-6zM377 984h12v1h-12zM390 984h1v1h-1zM392 984h1v1h-1zM394 984h2v1h-2zM397 984h2v1h-2zM402 984h2v1h-2zM369 985h9v1h-9zM379 985h13v1h-13zM393 985h1v1h-1zM398 985h2v1h-2zM369 986h4v1h-4zM374 986h14v1h-14zM389 986h2v1h-2zM399 986h2v1h-2zM403 986h1v1h-1zM371 987h1v1h-1zM377 987h1v1h-1zM380 987h1v1h-1zM383 987h1v1h-1zM388 987h1v1h-1zM414.5 939.8h1.3v1.3h-1.3zM423 949.9h1.3v1.3h-1.3zM417.9 952.6h1.3v1.3h-1.3zM411.4 954.9h1.3v1.3h-1.3zM408.4 955.4h1.3v1.3h-1.3z" fill="#000"/>
<rect x="368.8" y="903.4" width="98.1" height="84.5" fill="none" stroke="#000" stroke-width="1.6"/>
<path d="M393.3,986.7 L415.9,949.5 L459.9,986.7" fill="none" stroke="#0a0a0a" stroke-width="1.05"/>
<path d="M369.4,987.9 v4.5 M376.68,987.9 v2.8 M380.95,987.9 v2.8 M383.97,987.9 v2.8 M386.32,987.9 v2.8 M388.23,987.9 v2.8 M389.85,987.9 v2.8 M391.25,987.9 v2.8 M392.49,987.9 v2.8 M393.6,987.9 v4.5 M400.88,987.9 v2.8 M405.15,987.9 v2.8 M408.17,987.9 v2.8 M410.52,987.9 v2.8 M412.43,987.9 v2.8 M414.05,987.9 v2.8 M415.45,987.9 v2.8 M416.69,987.9 v2.8 M417.8,987.9 v4.5 M425.08,987.9 v2.8 M429.35,987.9 v2.8 M432.37,987.9 v2.8 M434.72,987.9 v2.8 M436.63,987.9 v2.8 M438.25,987.9 v2.8 M439.65,987.9 v2.8 M440.89,987.9 v2.8 M442,987.9 v4.5 M449.28,987.9 v2.8 M453.55,987.9 v2.8 M456.57,987.9 v2.8 M458.92,987.9 v2.8 M460.83,987.9 v2.8 M462.45,987.9 v2.8 M463.85,987.9 v2.8 M465.09,987.9 v2.8 M466.2,987.9 v4.5" stroke="#1a1a1a" stroke-width="1.15"/>
<text x="364.6" y="1003.2" font-size="8.6" textLength="6.4" lengthAdjust="spacingAndGlyphs" class="lb">10</text>
<text x="371.6" y="998.6" font-size="7.4" textLength="3.6" lengthAdjust="spacingAndGlyphs" class="lb">0</text>
<text x="386.4" y="1003.2" font-size="8.6" textLength="6.4" lengthAdjust="spacingAndGlyphs" class="lb">10</text>
<text x="393.4" y="998.6" font-size="7.4" textLength="3.6" lengthAdjust="spacingAndGlyphs" class="lb">1</text>
<text x="408" y="1003.2" font-size="8.6" textLength="6.4" lengthAdjust="spacingAndGlyphs" class="lb">10</text>
<text x="415" y="998.6" font-size="7.4" textLength="3.6" lengthAdjust="spacingAndGlyphs" class="lb">2</text>
<text x="433.5" y="1003.2" font-size="8.6" textLength="6.4" lengthAdjust="spacingAndGlyphs" class="lb">10</text>
<text x="440.5" y="998.6" font-size="7.4" textLength="3.6" lengthAdjust="spacingAndGlyphs" class="lb">3</text>
<text x="457.7" y="1003.2" font-size="8.6" textLength="6.4" lengthAdjust="spacingAndGlyphs" class="lb">10</text>
<text x="464.7" y="998.6" font-size="7.4" textLength="3.6" lengthAdjust="spacingAndGlyphs" class="lb">4</text>
<path d="M29 1055h1v1h-1zM52 1057h1v1h-1zM44 1058h2v1h-2zM49 1058h1v1h-1zM52 1058h1v1h-1zM43 1059h3v1h-3zM47 1059h2v1h-2zM51 1059h2v1h-2zM42 1060h1v1h-1zM45 1060h1v1h-1zM47 1060h2v1h-2zM50 1060h3v1h-3zM37 1061h1v1h-1zM39 1061h1v1h-1zM43 1061h1v1h-1zM45 1061h1v1h-1zM47 1061h1v1h-1zM49 1061h2v1h-2zM52 1061h2v1h-2zM29 1062h1v1h-1zM38 1062h1v1h-1zM41 1062h1v1h-1zM43 1062h1v1h-1zM45 1062h2v1h-2zM49 1062h1v1h-1zM51 1062h1v1h-1zM33 1063h1v1h-1zM44 1063h2v1h-2zM48 1063h1v1h-1zM52 1063h2v1h-2zM58 1063h1v1h-1zM30 1064h1v1h-1zM34 1064h1v1h-1zM42 1064h2v1h-2zM46 1064h1v1h-1zM49 1064h2v1h-2zM52 1064h1v1h-1zM58 1064h1v1h-1zM28 1065h1v1h-1zM32 1065h1v1h-1zM35 1065h2v1h-2zM39 1065h6v1h-6zM46 1065h1v1h-1zM48 1065h1v1h-1zM50 1065h5v1h-5zM60 1065h1v1h-1zM22 1066h1v1h-1zM38 1066h10v1h-10zM49 1066h3v1h-3zM35 1067h5v1h-5zM41 1067h2v1h-2zM44 1067h7v1h-7zM52 1067h1v1h-1zM54 1067h1v1h-1zM18 1068h1v1h-1zM29 1068h2v1h-2zM34 1068h8v1h-8zM43 1068h1v1h-1zM45 1068h7v1h-7zM60 1068h1v1h-1zM19 1069h1v1h-1zM28 1069h2v1h-2zM31 1069h20v1h-20zM57 1069h1v1h-1zM29 1070h2v1h-2zM32 1070h23v1h-23zM13 1071h1v1h-1zM28 1071h1v1h-1zM30 1071h25v1h-25zM57 1071h1v1h-1zM23 1072h1v1h-1zM29 1072h25v1h-25zM56 1072h1v1h-1zM23 1073h2v1h-2zM27 1073h28v1h-28zM24 1074h1v1h-1zM27 1074h29v1h-29zM15 1075h1v1h-1zM19 1075h1v1h-1zM25 1075h28v1h-28zM54 1075h3v1h-3zM59 1075h1v1h-1zM24 1076h14v1h-14zM39 1076h19v1h-19zM23 1077h11v1h-11zM35 1077h21v1h-21zM22 1078h26v1h-26zM49 1078h8v1h-8zM60 1078h2v1h-2zM21 1079h11v1h-11zM33 1079h3v1h-3zM37 1079h13v1h-13zM51 1079h7v1h-7zM59 1079h1v1h-1zM61 1079h1v1h-1zM11 1080h2v1h-2zM18 1080h1v1h-1zM20 1080h1v1h-1zM22 1080h4v1h-4zM27 1080h1v1h-1zM29 1080h30v1h-30zM12 1081h1v1h-1zM19 1081h1v1h-1zM21 1081h1v1h-1zM23 1081h6v1h-6zM30 1081h1v1h-1zM32 1081h25v1h-25zM7 1082h2v1h-2zM14 1082h1v1h-1zM21 1082h10v1h-10zM33 1082h18v1h-18zM52 1082h6v1h-6zM7 1083h2v1h-2zM13 1083h1v1h-1zM15 1083h1v1h-1zM19 1083h8v1h-8zM28 1083h2v1h-2zM31 1083h23v1h-23zM55 1083h5v1h-5zM16 1084h2v1h-2zM19 1084h39v1h-39zM60 1084h1v1h-1zM8 1085h1v1h-1zM10 1085h1v1h-1zM13 1085h1v1h-1zM17 1085h1v1h-1zM19 1085h39v1h-39zM59 1085h1v1h-1zM7 1086h1v1h-1zM9 1086h1v1h-1zM16 1086h1v1h-1zM18 1086h3v1h-3zM22 1086h36v1h-36zM59 1086h1v1h-1zM8 1087h2v1h-2zM14 1087h1v1h-1zM16 1087h31v1h-31zM48 1087h12v1h-12zM13 1088h1v1h-1zM15 1088h1v1h-1zM17 1088h2v1h-2zM20 1088h38v1h-38zM59 1088h1v1h-1zM66 1088h1v1h-1zM8 1089h1v1h-1zM12 1089h1v1h-1zM14 1089h1v1h-1zM16 1089h15v1h-15zM33 1089h8v1h-8zM42 1089h12v1h-12zM55 1089h5v1h-5zM63 1089h1v1h-1zM7 1090h1v1h-1zM11 1090h2v1h-2zM16 1090h10v1h-10zM27 1090h26v1h-26zM54 1090h5v1h-5zM60 1090h1v1h-1zM11 1091h3v1h-3zM15 1091h1v1h-1zM17 1091h10v1h-10zM28 1091h31v1h-31zM8 1092h2v1h-2zM14 1092h3v1h-3zM18 1092h11v1h-11zM30 1092h16v1h-16zM47 1092h12v1h-12zM8 1093h2v1h-2zM11 1093h1v1h-1zM13 1093h1v1h-1zM15 1093h1v1h-1zM17 1093h42v1h-42zM62 1093h1v1h-1zM10 1094h3v1h-3zM14 1094h3v1h-3zM18 1094h21v1h-21zM41 1094h16v1h-16zM58 1094h1v1h-1zM61 1094h1v1h-1zM7 1095h1v1h-1zM9 1095h1v1h-1zM11 1095h1v1h-1zM14 1095h17v1h-17zM32 1095h26v1h-26zM7 1096h1v1h-1zM9 1096h1v1h-1zM13 1096h2v1h-2zM16 1096h1v1h-1zM19 1096h39v1h-39zM53.9 1052.9h1.3v1.3h-1.3zM57.4 1056.4h1.3v1.3h-1.3zM61.4 1057.4h1.3v1.3h-1.3zM44.4 1055.4h1.3v1.3h-1.3zM35.4 1061.4h1.3v1.3h-1.3zM19.4 1072.4h1.3v1.3h-1.3zM15.4 1074.4h1.3v1.3h-1.3zM10.4 1083.4h1.3v1.3h-1.3zM8.4 1089.4h1.3v1.3h-1.3zM71.4 1038.2h1.3v1.3h-1.3zM96.3 1034h1.3v1.3h-1.3zM95.2 1062.2h1.3v1.3h-1.3zM80.2 1084.8h1.3v1.3h-1.3zM66.8 1077.9h1.3v1.3h-1.3zM63.4 1069.4h1.3v1.3h-1.3zM61.4 1087.4h1.3v1.3h-1.3zM64.4 1092.4h1.3v1.3h-1.3z" fill="#000"/>
<rect x="6.9" y="1012" width="97.9" height="85.2" fill="none" stroke="#000" stroke-width="1.6"/>
<path d="M31.4,1096 L55.4,1058.2 L98.6,1096" fill="none" stroke="#0a0a0a" stroke-width="1.05"/>
<path d="M7.5,1097.2 v4.5 M14.78,1097.2 v2.8 M19.05,1097.2 v2.8 M22.07,1097.2 v2.8 M24.42,1097.2 v2.8 M26.33,1097.2 v2.8 M27.95,1097.2 v2.8 M29.35,1097.2 v2.8 M30.59,1097.2 v2.8 M31.7,1097.2 v4.5 M38.98,1097.2 v2.8 M43.25,1097.2 v2.8 M46.27,1097.2 v2.8 M48.62,1097.2 v2.8 M50.53,1097.2 v2.8 M52.15,1097.2 v2.8 M53.55,1097.2 v2.8 M54.79,1097.2 v2.8 M55.9,1097.2 v4.5 M63.18,1097.2 v2.8 M67.45,1097.2 v2.8 M70.47,1097.2 v2.8 M72.82,1097.2 v2.8 M74.73,1097.2 v2.8 M76.35,1097.2 v2.8 M77.75,1097.2 v2.8 M78.99,1097.2 v2.8 M80.1,1097.2 v4.5 M87.38,1097.2 v2.8 M91.65,1097.2 v2.8 M94.67,1097.2 v2.8 M97.02,1097.2 v2.8 M98.93,1097.2 v2.8 M100.55,1097.2 v2.8 M101.95,1097.2 v2.8 M103.19,1097.2 v2.8 M104.3,1097.2 v4.5" stroke="#1a1a1a" stroke-width="1.15"/>
<text x="2.7" y="1113" font-size="8.6" textLength="6.4" lengthAdjust="spacingAndGlyphs" class="lb">10</text>
<text x="9.7" y="1108.4" font-size="7.4" textLength="3.6" lengthAdjust="spacingAndGlyphs" class="lb">0</text>
<text x="24.5" y="1113" font-size="8.6" textLength="6.4" lengthAdjust="spacingAndGlyphs" class="lb">10</text>
<text x="31.5" y="1108.4" font-size="7.4" textLength="3.6" lengthAdjust="spacingAndGlyphs" class="lb">1</text>
<text x="46.1" y="1113" font-size="8.6" textLength="6.4" lengthAdjust="spacingAndGlyphs" class="lb">10</text>
<text x="53.1" y="1108.4" font-size="7.4" textLength="3.6" lengthAdjust="spacingAndGlyphs" class="lb">2</text>
<text x="71.6" y="1113" font-size="8.6" textLength="6.4" lengthAdjust="spacingAndGlyphs" class="lb">10</text>
<text x="78.6" y="1108.4" font-size="7.4" textLength="3.6" lengthAdjust="spacingAndGlyphs" class="lb">3</text>
<text x="95.8" y="1113" font-size="8.6" textLength="6.4" lengthAdjust="spacingAndGlyphs" class="lb">10</text>
<text x="102.8" y="1108.4" font-size="7.4" textLength="3.6" lengthAdjust="spacingAndGlyphs" class="lb">4</text>
<text x="103.2" y="1024" font-size="11.3" text-anchor="end">68.99</text>
<path d="M161 1057h1v1h-1zM171 1059h1v1h-1zM173 1059h1v1h-1zM146 1060h1v1h-1zM169 1060h3v1h-3zM174 1060h1v1h-1zM164 1061h1v1h-1zM170 1061h1v1h-1zM174 1061h2v1h-2zM162 1062h1v1h-1zM164 1062h2v1h-2zM168 1062h1v1h-1zM176 1062h1v1h-1zM162 1063h2v1h-2zM166 1063h3v1h-3zM172 1063h4v1h-4zM160 1064h1v1h-1zM163 1064h2v1h-2zM166 1064h1v1h-1zM169 1064h2v1h-2zM173 1064h3v1h-3zM140 1065h1v1h-1zM159 1065h2v1h-2zM162 1065h2v1h-2zM167 1065h3v1h-3zM171 1065h2v1h-2zM177 1065h1v1h-1zM151 1066h1v1h-1zM159 1066h2v1h-2zM163 1066h6v1h-6zM170 1066h1v1h-1zM176 1066h2v1h-2zM150 1067h1v1h-1zM154 1067h1v1h-1zM160 1067h1v1h-1zM162 1067h1v1h-1zM165 1067h1v1h-1zM171 1067h2v1h-2zM174 1067h2v1h-2zM179 1067h1v1h-1zM156 1068h1v1h-1zM158 1068h16v1h-16zM175 1068h2v1h-2zM182 1068h1v1h-1zM153 1069h1v1h-1zM158 1069h17v1h-17zM176 1069h1v1h-1zM184 1069h1v1h-1zM187 1069h1v1h-1zM148 1070h1v1h-1zM156 1070h3v1h-3zM160 1070h15v1h-15zM176 1070h1v1h-1zM178 1070h1v1h-1zM152 1071h1v1h-1zM154 1071h1v1h-1zM156 1071h17v1h-17zM174 1071h1v1h-1zM176 1071h1v1h-1zM178 1071h1v1h-1zM150 1072h2v1h-2zM154 1072h21v1h-21zM176 1072h1v1h-1zM143 1073h1v1h-1zM148 1073h28v1h-28zM177 1073h1v1h-1zM143 1074h2v1h-2zM150 1074h16v1h-16zM167 1074h9v1h-9zM146 1075h1v1h-1zM148 1075h28v1h-28zM177 1075h2v1h-2zM148 1076h29v1h-29zM146 1077h20v1h-20zM167 1077h10v1h-10zM180 1077h2v1h-2zM145 1078h33v1h-33zM135 1079h1v1h-1zM142 1079h15v1h-15zM158 1079h17v1h-17zM176 1079h3v1h-3zM141 1080h1v1h-1zM143 1080h35v1h-35zM179 1080h1v1h-1zM141 1081h20v1h-20zM162 1081h6v1h-6zM169 1081h7v1h-7zM177 1081h1v1h-1zM179 1081h1v1h-1zM141 1082h1v1h-1zM143 1082h15v1h-15zM159 1082h19v1h-19zM137 1083h1v1h-1zM140 1083h9v1h-9zM150 1083h7v1h-7zM158 1083h2v1h-2zM161 1083h17v1h-17zM180 1083h1v1h-1zM137 1084h1v1h-1zM140 1084h9v1h-9zM150 1084h18v1h-18zM169 1084h10v1h-10zM137 1085h41v1h-41zM179 1085h1v1h-1zM139 1086h2v1h-2zM142 1086h11v1h-11zM154 1086h15v1h-15zM170 1086h9v1h-9zM131 1087h5v1h-5zM138 1087h8v1h-8zM147 1087h9v1h-9zM157 1087h22v1h-22zM183 1087h1v1h-1zM129 1088h1v1h-1zM132 1088h1v1h-1zM134 1088h2v1h-2zM138 1088h39v1h-39zM178 1088h4v1h-4zM128 1089h1v1h-1zM130 1089h2v1h-2zM134 1089h1v1h-1zM137 1089h16v1h-16zM154 1089h8v1h-8zM163 1089h4v1h-4zM169 1089h10v1h-10zM180 1089h1v1h-1zM136 1090h31v1h-31zM168 1090h11v1h-11zM130 1091h4v1h-4zM135 1091h17v1h-17zM153 1091h28v1h-28zM128 1092h1v1h-1zM132 1092h1v1h-1zM134 1092h1v1h-1zM136 1092h44v1h-44zM181 1092h1v1h-1zM129 1093h2v1h-2zM132 1093h1v1h-1zM134 1093h1v1h-1zM136 1093h16v1h-16zM153 1093h11v1h-11zM165 1093h17v1h-17zM130 1094h1v1h-1zM134 1094h1v1h-1zM136 1094h5v1h-5zM143 1094h37v1h-37zM128 1095h1v1h-1zM130 1095h1v1h-1zM132 1095h1v1h-1zM134 1095h23v1h-23zM158 1095h21v1h-21zM180 1095h1v1h-1zM133 1096h1v1h-1zM135 1096h45v1h-45zM182 1096h1v1h-1zM207.1 1028.9h1.3v1.3h-1.3zM192.1 1039.1h1.3v1.3h-1.3zM182.4 1052h1.3v1.3h-1.3zM188.2 1055.9h1.3v1.3h-1.3zM211.3 1061.7h1.3v1.3h-1.3zM202 1073.9h1.3v1.3h-1.3zM211.3 1073.2h1.3v1.3h-1.3zM144.8 1069.8h1.3v1.3h-1.3zM182.4 1074.4h1.3v1.3h-1.3zM185.4 1079.4h1.3v1.3h-1.3zM183.4 1087.4h1.3v1.3h-1.3zM186.4 1091.4h1.3v1.3h-1.3zM129.4 1085.4h1.3v1.3h-1.3z" fill="#000"/>
<rect x="127.7" y="1012.1" width="98.5" height="84.9" fill="none" stroke="#000" stroke-width="1.6"/>
<path d="M152.2,1095.8 L174.8,1058.6 L219.2,1095.8" fill="none" stroke="#0a0a0a" stroke-width="1.05"/>
<path d="M128.3,1097 v4.5 M135.58,1097 v2.8 M139.85,1097 v2.8 M142.87,1097 v2.8 M145.22,1097 v2.8 M147.13,1097 v2.8 M148.75,1097 v2.8 M150.15,1097 v2.8 M151.39,1097 v2.8 M152.5,1097 v4.5 M159.78,1097 v2.8 M164.05,1097 v2.8 M167.07,1097 v2.8 M169.42,1097 v2.8 M171.33,1097 v2.8 M172.95,1097 v2.8 M174.35,1097 v2.8 M175.59,1097 v2.8 M176.7,1097 v4.5 M183.98,1097 v2.8 M188.25,1097 v2.8 M191.27,1097 v2.8 M193.62,1097 v2.8 M195.53,1097 v2.8 M197.15,1097 v2.8 M198.55,1097 v2.8 M199.79,1097 v2.8 M200.9,1097 v4.5 M208.18,1097 v2.8 M212.45,1097 v2.8 M215.47,1097 v2.8 M217.82,1097 v2.8 M219.73,1097 v2.8 M221.35,1097 v2.8 M222.75,1097 v2.8 M223.99,1097 v2.8 M225.1,1097 v4.5" stroke="#1a1a1a" stroke-width="1.15"/>
<text x="123.5" y="1112.8" font-size="8.6" textLength="6.4" lengthAdjust="spacingAndGlyphs" class="lb">10</text>
<text x="130.5" y="1108.2" font-size="7.4" textLength="3.6" lengthAdjust="spacingAndGlyphs" class="lb">0</text>
<text x="145.3" y="1112.8" font-size="8.6" textLength="6.4" lengthAdjust="spacingAndGlyphs" class="lb">10</text>
<text x="152.3" y="1108.2" font-size="7.4" textLength="3.6" lengthAdjust="spacingAndGlyphs" class="lb">1</text>
<text x="166.9" y="1112.8" font-size="8.6" textLength="6.4" lengthAdjust="spacingAndGlyphs" class="lb">10</text>
<text x="173.9" y="1108.2" font-size="7.4" textLength="3.6" lengthAdjust="spacingAndGlyphs" class="lb">2</text>
<text x="192.4" y="1112.8" font-size="8.6" textLength="6.4" lengthAdjust="spacingAndGlyphs" class="lb">10</text>
<text x="199.4" y="1108.2" font-size="7.4" textLength="3.6" lengthAdjust="spacingAndGlyphs" class="lb">3</text>
<text x="216.6" y="1112.8" font-size="8.6" textLength="6.4" lengthAdjust="spacingAndGlyphs" class="lb">10</text>
<text x="223.6" y="1108.2" font-size="7.4" textLength="3.6" lengthAdjust="spacingAndGlyphs" class="lb">4</text>
<text x="224.6" y="1023.3" font-size="11.3" text-anchor="end">69.36</text>
<path d="M265 1042h1v1h-1zM255 1050h1v1h-1zM261 1050h1v1h-1zM276 1050h1v1h-1zM282 1050h1v1h-1zM254 1051h1v1h-1zM264 1051h1v1h-1zM263 1053h1v1h-1zM272 1053h1v1h-1zM266 1054h1v1h-1zM265 1055h1v1h-1zM268 1055h1v1h-1zM269 1056h1v1h-1zM255 1057h1v1h-1zM263 1057h2v1h-2zM266 1057h1v1h-1zM273 1057h1v1h-1zM279 1057h1v1h-1zM263 1058h1v1h-1zM271 1058h1v1h-1zM291 1058h1v1h-1zM258 1059h1v1h-1zM262 1059h1v1h-1zM271 1059h1v1h-1zM252 1060h1v1h-1zM276 1060h1v1h-1zM280 1060h1v1h-1zM257 1061h1v1h-1zM260 1061h2v1h-2zM263 1061h2v1h-2zM271 1061h1v1h-1zM284 1061h1v1h-1zM248 1062h1v1h-1zM250 1062h1v1h-1zM254 1062h1v1h-1zM257 1062h1v1h-1zM259 1062h1v1h-1zM262 1062h1v1h-1zM265 1062h1v1h-1zM270 1062h2v1h-2zM273 1062h1v1h-1zM277 1062h1v1h-1zM296 1062h2v1h-2zM260 1063h1v1h-1zM262 1063h1v1h-1zM264 1063h1v1h-1zM266 1063h1v1h-1zM269 1063h1v1h-1zM272 1063h1v1h-1zM280 1063h1v1h-1zM283 1063h1v1h-1zM247 1064h1v1h-1zM253 1064h1v1h-1zM258 1064h3v1h-3zM265 1064h1v1h-1zM271 1064h1v1h-1zM275 1064h1v1h-1zM285 1064h1v1h-1zM251 1065h1v1h-1zM254 1065h1v1h-1zM260 1065h1v1h-1zM264 1065h1v1h-1zM266 1065h2v1h-2zM270 1065h3v1h-3zM277 1065h1v1h-1zM283 1065h1v1h-1zM249 1066h1v1h-1zM252 1066h3v1h-3zM264 1066h2v1h-2zM268 1066h2v1h-2zM271 1066h1v1h-1zM273 1066h1v1h-1zM276 1066h1v1h-1zM278 1066h1v1h-1zM280 1066h3v1h-3zM251 1067h1v1h-1zM255 1067h2v1h-2zM262 1067h3v1h-3zM267 1067h1v1h-1zM269 1067h1v1h-1zM277 1067h3v1h-3zM286 1067h1v1h-1zM294 1067h1v1h-1zM250 1068h1v1h-1zM252 1068h4v1h-4zM258 1068h2v1h-2zM262 1068h4v1h-4zM267 1068h4v1h-4zM272 1068h1v1h-1zM274 1068h4v1h-4zM279 1068h2v1h-2zM282 1068h1v1h-1zM284 1068h1v1h-1zM289 1068h1v1h-1zM291 1068h1v1h-1zM295 1068h1v1h-1zM250 1069h4v1h-4zM255 1069h2v1h-2zM258 1069h3v1h-3zM263 1069h4v1h-4zM268 1069h2v1h-2zM271 1069h4v1h-4zM278 1069h1v1h-1zM280 1069h1v1h-1zM282 1069h1v1h-1zM285 1069h1v1h-1zM251 1070h3v1h-3zM256 1070h1v1h-1zM259 1070h3v1h-3zM264 1070h1v1h-1zM266 1070h2v1h-2zM269 1070h3v1h-3zM273 1070h1v1h-1zM275 1070h2v1h-2zM281 1070h1v1h-1zM284 1070h1v1h-1zM286 1070h2v1h-2zM289 1070h1v1h-1zM247 1071h1v1h-1zM249 1071h3v1h-3zM255 1071h1v1h-1zM257 1071h6v1h-6zM264 1071h2v1h-2zM267 1071h3v1h-3zM274 1071h6v1h-6zM281 1071h3v1h-3zM285 1071h5v1h-5zM291 1071h2v1h-2zM301 1071h1v1h-1zM249 1072h1v1h-1zM251 1072h2v1h-2zM254 1072h2v1h-2zM259 1072h1v1h-1zM261 1072h6v1h-6zM268 1072h10v1h-10zM282 1072h2v1h-2zM287 1072h2v1h-2zM290 1072h1v1h-1zM292 1072h2v1h-2zM297 1072h1v1h-1zM299 1072h1v1h-1zM248 1073h2v1h-2zM251 1073h4v1h-4zM256 1073h2v1h-2zM259 1073h8v1h-8zM268 1073h12v1h-12zM281 1073h3v1h-3zM286 1073h3v1h-3zM290 1073h2v1h-2zM248 1074h1v1h-1zM250 1074h2v1h-2zM253 1074h4v1h-4zM259 1074h18v1h-18zM278 1074h2v1h-2zM281 1074h1v1h-1zM283 1074h1v1h-1zM285 1074h5v1h-5zM291 1074h1v1h-1zM304 1074h1v1h-1zM247 1075h2v1h-2zM250 1075h2v1h-2zM253 1075h1v1h-1zM255 1075h1v1h-1zM257 1075h13v1h-13zM271 1075h10v1h-10zM282 1075h5v1h-5zM288 1075h3v1h-3zM294 1075h1v1h-1zM299 1075h1v1h-1zM248 1076h1v1h-1zM250 1076h1v1h-1zM252 1076h1v1h-1zM254 1076h1v1h-1zM257 1076h1v1h-1zM259 1076h1v1h-1zM261 1076h12v1h-12zM274 1076h15v1h-15zM290 1076h1v1h-1zM293 1076h1v1h-1zM296 1076h1v1h-1zM300 1076h1v1h-1zM247 1077h1v1h-1zM249 1077h1v1h-1zM251 1077h1v1h-1zM254 1077h3v1h-3zM258 1077h2v1h-2zM261 1077h32v1h-32zM297 1077h1v1h-1zM249 1078h3v1h-3zM253 1078h1v1h-1zM256 1078h5v1h-5zM262 1078h19v1h-19zM282 1078h10v1h-10zM297 1078h1v1h-1zM247 1079h1v1h-1zM249 1079h3v1h-3zM253 1079h9v1h-9zM263 1079h12v1h-12zM276 1079h13v1h-13zM290 1079h2v1h-2zM299 1079h1v1h-1zM248 1080h3v1h-3zM253 1080h23v1h-23zM277 1080h8v1h-8zM286 1080h8v1h-8zM297 1080h1v1h-1zM301 1080h1v1h-1zM306 1080h1v1h-1zM248 1081h2v1h-2zM252 1081h1v1h-1zM254 1081h1v1h-1zM256 1081h32v1h-32zM289 1081h1v1h-1zM293 1081h2v1h-2zM297 1081h1v1h-1zM302 1081h1v1h-1zM247 1082h2v1h-2zM251 1082h10v1h-10zM262 1082h31v1h-31zM294 1082h1v1h-1zM303 1082h1v1h-1zM247 1083h1v1h-1zM249 1083h1v1h-1zM251 1083h1v1h-1zM253 1083h20v1h-20zM274 1083h18v1h-18zM295 1083h2v1h-2zM298 1083h1v1h-1zM248 1084h12v1h-12zM261 1084h26v1h-26zM288 1084h5v1h-5zM299 1084h1v1h-1zM247 1085h2v1h-2zM250 1085h2v1h-2zM253 1085h7v1h-7zM261 1085h3v1h-3zM265 1085h4v1h-4zM270 1085h16v1h-16zM287 1085h6v1h-6zM247 1086h1v1h-1zM250 1086h39v1h-39zM290 1086h6v1h-6zM298 1086h1v1h-1zM247 1087h2v1h-2zM251 1087h1v1h-1zM253 1087h25v1h-25zM279 1087h9v1h-9zM289 1087h3v1h-3zM297 1087h3v1h-3zM248 1088h2v1h-2zM251 1088h1v1h-1zM253 1088h12v1h-12zM266 1088h22v1h-22zM290 1088h2v1h-2zM293 1088h1v1h-1zM299 1088h1v1h-1zM248 1089h42v1h-42zM291 1089h2v1h-2zM295 1089h2v1h-2zM308 1089h1v1h-1zM249 1090h2v1h-2zM252 1090h31v1h-31zM284 1090h9v1h-9zM294 1090h3v1h-3zM298 1090h4v1h-4zM310 1090h1v1h-1zM249 1091h40v1h-40zM291 1091h2v1h-2zM296 1091h1v1h-1zM247 1092h29v1h-29zM277 1092h14v1h-14zM292 1092h1v1h-1zM247 1093h1v1h-1zM249 1093h4v1h-4zM254 1093h31v1h-31zM286 1093h1v1h-1zM288 1093h5v1h-5zM305 1093h1v1h-1zM247 1094h2v1h-2zM250 1094h3v1h-3zM254 1094h32v1h-32zM288 1094h2v1h-2zM291 1094h2v1h-2zM248 1095h3v1h-3zM253 1095h37v1h-37zM291 1095h4v1h-4zM296 1095h1v1h-1zM247 1096h1v1h-1zM250 1096h4v1h-4zM257 1096h13v1h-13zM271 1096h13v1h-13zM285 1096h8v1h-8zM294 1096h2v1h-2zM302.9 1045.6h1.3v1.3h-1.3zM308.6 1041.4h1.3v1.3h-1.3zM325.3 1073.7h1.3v1.3h-1.3zM275.2 1050.6h1.3v1.3h-1.3zM274 1054.3h1.3v1.3h-1.3zM294.8 1054.4h1.3v1.3h-1.3zM297.4 1079.4h1.3v1.3h-1.3zM299.4 1089.4h1.3v1.3h-1.3zM249.4 1061.4h1.3v1.3h-1.3zM282.4 1059.4h1.3v1.3h-1.3zM279.4 1062.4h1.3v1.3h-1.3zM265.4 1063.4h1.3v1.3h-1.3zM257.4 1065.4h1.3v1.3h-1.3z" fill="#000"/>
<rect x="246.7" y="1012.6" width="98.3" height="84.8" fill="none" stroke="#000" stroke-width="1.6"/>
<path d="M271.2,1096.2 L295.1,1058.5 L338.7,1096.2" fill="none" stroke="#0a0a0a" stroke-width="1.05"/>
<path d="M247.3,1097.4 v4.5 M254.58,1097.4 v2.8 M258.85,1097.4 v2.8 M261.87,1097.4 v2.8 M264.22,1097.4 v2.8 M266.13,1097.4 v2.8 M267.75,1097.4 v2.8 M269.15,1097.4 v2.8 M270.39,1097.4 v2.8 M271.5,1097.4 v4.5 M278.78,1097.4 v2.8 M283.05,1097.4 v2.8 M286.07,1097.4 v2.8 M288.42,1097.4 v2.8 M290.33,1097.4 v2.8 M291.95,1097.4 v2.8 M293.35,1097.4 v2.8 M294.59,1097.4 v2.8 M295.7,1097.4 v4.5 M302.98,1097.4 v2.8 M307.25,1097.4 v2.8 M310.27,1097.4 v2.8 M312.62,1097.4 v2.8 M314.53,1097.4 v2.8 M316.15,1097.4 v2.8 M317.55,1097.4 v2.8 M318.79,1097.4 v2.8 M319.9,1097.4 v4.5 M327.18,1097.4 v2.8 M331.45,1097.4 v2.8 M334.47,1097.4 v2.8 M336.82,1097.4 v2.8 M338.73,1097.4 v2.8 M340.35,1097.4 v2.8 M341.75,1097.4 v2.8 M342.99,1097.4 v2.8 M344.1,1097.4 v4.5" stroke="#1a1a1a" stroke-width="1.15"/>
<text x="242.5" y="1113.2" font-size="8.6" textLength="6.4" lengthAdjust="spacingAndGlyphs" class="lb">10</text>
<text x="249.5" y="1108.6" font-size="7.4" textLength="3.6" lengthAdjust="spacingAndGlyphs" class="lb">0</text>
<text x="264.3" y="1113.2" font-size="8.6" textLength="6.4" lengthAdjust="spacingAndGlyphs" class="lb">10</text>
<text x="271.3" y="1108.6" font-size="7.4" textLength="3.6" lengthAdjust="spacingAndGlyphs" class="lb">1</text>
<text x="285.9" y="1113.2" font-size="8.6" textLength="6.4" lengthAdjust="spacingAndGlyphs" class="lb">10</text>
<text x="292.9" y="1108.6" font-size="7.4" textLength="3.6" lengthAdjust="spacingAndGlyphs" class="lb">2</text>
<text x="311.4" y="1113.2" font-size="8.6" textLength="6.4" lengthAdjust="spacingAndGlyphs" class="lb">10</text>
<text x="318.4" y="1108.6" font-size="7.4" textLength="3.6" lengthAdjust="spacingAndGlyphs" class="lb">3</text>
<text x="335.6" y="1113.2" font-size="8.6" textLength="6.4" lengthAdjust="spacingAndGlyphs" class="lb">10</text>
<text x="342.6" y="1108.6" font-size="7.4" textLength="3.6" lengthAdjust="spacingAndGlyphs" class="lb">4</text>
<text x="343.4" y="1024.6" font-size="11.3" text-anchor="end">34.22</text>
<path d="M410 1053h1v1h-1zM414 1054h1v1h-1zM412 1057h1v1h-1zM403 1058h1v1h-1zM407 1058h1v1h-1zM412 1058h2v1h-2zM403 1059h1v1h-1zM409 1059h4v1h-4zM415 1059h1v1h-1zM406 1060h1v1h-1zM409 1060h3v1h-3zM401 1061h1v1h-1zM404 1061h8v1h-8zM396 1062h1v1h-1zM402 1062h6v1h-6zM409 1062h3v1h-3zM395 1063h1v1h-1zM397 1063h1v1h-1zM399 1063h4v1h-4zM404 1063h1v1h-1zM407 1063h3v1h-3zM396 1064h1v1h-1zM399 1064h8v1h-8zM408 1064h3v1h-3zM413 1064h1v1h-1zM392 1065h1v1h-1zM394 1065h2v1h-2zM397 1065h7v1h-7zM405 1065h1v1h-1zM407 1065h3v1h-3zM395 1066h2v1h-2zM398 1066h6v1h-6zM405 1066h5v1h-5zM388 1067h1v1h-1zM394 1067h6v1h-6zM401 1067h4v1h-4zM406 1067h1v1h-1zM408 1067h2v1h-2zM392 1068h2v1h-2zM396 1068h2v1h-2zM399 1068h1v1h-1zM401 1068h1v1h-1zM403 1068h7v1h-7zM388 1069h1v1h-1zM392 1069h1v1h-1zM394 1069h2v1h-2zM397 1069h7v1h-7zM405 1069h3v1h-3zM391 1070h17v1h-17zM410 1070h1v1h-1zM386 1071h1v1h-1zM388 1071h1v1h-1zM391 1071h8v1h-8zM400 1071h7v1h-7zM385 1072h9v1h-9zM395 1072h3v1h-3zM399 1072h3v1h-3zM403 1072h2v1h-2zM382 1073h2v1h-2zM385 1073h1v1h-1zM387 1073h1v1h-1zM389 1073h4v1h-4zM394 1073h5v1h-5zM400 1073h3v1h-3zM404 1073h1v1h-1zM406 1073h1v1h-1zM381 1074h1v1h-1zM384 1074h4v1h-4zM389 1074h2v1h-2zM393 1074h3v1h-3zM398 1074h6v1h-6zM407 1074h1v1h-1zM380 1075h1v1h-1zM382 1075h8v1h-8zM391 1075h1v1h-1zM394 1075h7v1h-7zM403 1075h2v1h-2zM378 1076h1v1h-1zM380 1076h3v1h-3zM384 1076h5v1h-5zM390 1076h2v1h-2zM393 1076h10v1h-10zM378 1077h2v1h-2zM381 1077h3v1h-3zM387 1077h2v1h-2zM390 1077h1v1h-1zM392 1077h1v1h-1zM394 1077h1v1h-1zM396 1077h1v1h-1zM398 1077h1v1h-1zM400 1077h3v1h-3zM377 1078h3v1h-3zM381 1078h2v1h-2zM384 1078h1v1h-1zM386 1078h3v1h-3zM391 1078h4v1h-4zM396 1078h2v1h-2zM399 1078h3v1h-3zM372 1079h1v1h-1zM374 1079h3v1h-3zM379 1079h2v1h-2zM383 1079h10v1h-10zM395 1079h2v1h-2zM399 1079h2v1h-2zM369 1080h1v1h-1zM372 1080h1v1h-1zM374 1080h3v1h-3zM378 1080h2v1h-2zM382 1080h6v1h-6zM389 1080h1v1h-1zM391 1080h3v1h-3zM395 1080h3v1h-3zM399 1080h1v1h-1zM370 1081h1v1h-1zM373 1081h7v1h-7zM381 1081h5v1h-5zM387 1081h12v1h-12zM401 1081h1v1h-1zM369 1082h1v1h-1zM371 1082h17v1h-17zM389 1082h5v1h-5zM395 1082h4v1h-4zM368 1083h1v1h-1zM372 1083h8v1h-8zM381 1083h1v1h-1zM384 1083h3v1h-3zM388 1083h8v1h-8zM397 1083h1v1h-1zM368 1084h2v1h-2zM371 1084h2v1h-2zM374 1084h9v1h-9zM384 1084h12v1h-12zM368 1085h2v1h-2zM371 1085h1v1h-1zM374 1085h2v1h-2zM377 1085h7v1h-7zM385 1085h7v1h-7zM393 1085h4v1h-4zM367 1086h4v1h-4zM372 1086h11v1h-11zM384 1086h1v1h-1zM386 1086h5v1h-5zM392 1086h5v1h-5zM368 1087h2v1h-2zM371 1087h3v1h-3zM377 1087h4v1h-4zM382 1087h9v1h-9zM393 1087h3v1h-3zM367 1088h8v1h-8zM377 1088h12v1h-12zM390 1088h6v1h-6zM399 1088h1v1h-1zM367 1089h4v1h-4zM372 1089h1v1h-1zM374 1089h6v1h-6zM381 1089h13v1h-13zM367 1090h2v1h-2zM370 1090h6v1h-6zM377 1090h4v1h-4zM382 1090h2v1h-2zM388 1090h1v1h-1zM391 1090h3v1h-3zM367 1091h6v1h-6zM374 1091h4v1h-4zM380 1091h4v1h-4zM390 1091h2v1h-2zM394 1091h1v1h-1zM367 1092h1v1h-1zM370 1092h3v1h-3zM374 1092h4v1h-4zM380 1092h3v1h-3zM367 1093h11v1h-11zM379 1093h4v1h-4zM393 1093h1v1h-1zM367 1094h1v1h-1zM369 1094h8v1h-8zM379 1094h3v1h-3zM383 1094h1v1h-1zM367 1095h3v1h-3zM371 1095h8v1h-8zM380 1095h2v1h-2zM386 1095h1v1h-1zM367 1096h10v1h-10zM378 1096h3v1h-3zM383 1096h1v1h-1zM411.2 1079.4h1.3v1.3h-1.3zM415.2 1084.8h1.3v1.3h-1.3zM410.5 1084.8h1.3v1.3h-1.3zM419.9 1074h1.3v1.3h-1.3zM422.6 1076.7h1.3v1.3h-1.3zM430 1080.7h1.3v1.3h-1.3zM417.9 1063.2h1.3v1.3h-1.3zM414.5 1069.3h1.3v1.3h-1.3zM412.5 1068.6h1.3v1.3h-1.3zM407.9 1051.3h1.3v1.3h-1.3zM421.7 1046.2h1.3v1.3h-1.3zM430.9 1040.9h1.3v1.3h-1.3zM397.4 1059.4h1.3v1.3h-1.3zM387.6 1067.5h1.3v1.3h-1.3zM436.7 1074.4h1.3v1.3h-1.3zM428.6 1080.2h1.3v1.3h-1.3zM414.8 1068.6h1.3v1.3h-1.3zM384.4 1092.4h1.3v1.3h-1.3zM387.4 1091.4h1.3v1.3h-1.3z" fill="#000"/>
<rect x="366.9" y="1012.5" width="98.7" height="84.8" fill="none" stroke="#000" stroke-width="1.6"/>
<path d="M391.4,1096.1 L413.8,1057.8 L459.2,1096.1" fill="none" stroke="#0a0a0a" stroke-width="1.05"/>
<path d="M367.5,1097.3 v4.5 M374.78,1097.3 v2.8 M379.05,1097.3 v2.8 M382.07,1097.3 v2.8 M384.42,1097.3 v2.8 M386.33,1097.3 v2.8 M387.95,1097.3 v2.8 M389.35,1097.3 v2.8 M390.59,1097.3 v2.8 M391.7,1097.3 v4.5 M398.98,1097.3 v2.8 M403.25,1097.3 v2.8 M406.27,1097.3 v2.8 M408.62,1097.3 v2.8 M410.53,1097.3 v2.8 M412.15,1097.3 v2.8 M413.55,1097.3 v2.8 M414.79,1097.3 v2.8 M415.9,1097.3 v4.5 M423.18,1097.3 v2.8 M427.45,1097.3 v2.8 M430.47,1097.3 v2.8 M432.82,1097.3 v2.8 M434.73,1097.3 v2.8 M436.35,1097.3 v2.8 M437.75,1097.3 v2.8 M438.99,1097.3 v2.8 M440.1,1097.3 v4.5 M447.38,1097.3 v2.8 M451.65,1097.3 v2.8 M454.67,1097.3 v2.8 M457.02,1097.3 v2.8 M458.93,1097.3 v2.8 M460.55,1097.3 v2.8 M461.95,1097.3 v2.8 M463.19,1097.3 v2.8 M464.3,1097.3 v4.5" stroke="#1a1a1a" stroke-width="1.15"/>
<text x="362.7" y="1113.1" font-size="8.6" textLength="6.4" lengthAdjust="spacingAndGlyphs" class="lb">10</text>
<text x="369.7" y="1108.5" font-size="7.4" textLength="3.6" lengthAdjust="spacingAndGlyphs" class="lb">0</text>
<text x="384.5" y="1113.1" font-size="8.6" textLength="6.4" lengthAdjust="spacingAndGlyphs" class="lb">10</text>
<text x="391.5" y="1108.5" font-size="7.4" textLength="3.6" lengthAdjust="spacingAndGlyphs" class="lb">1</text>
<text x="406.1" y="1113.1" font-size="8.6" textLength="6.4" lengthAdjust="spacingAndGlyphs" class="lb">10</text>
<text x="413.1" y="1108.5" font-size="7.4" textLength="3.6" lengthAdjust="spacingAndGlyphs" class="lb">2</text>
<text x="431.6" y="1113.1" font-size="8.6" textLength="6.4" lengthAdjust="spacingAndGlyphs" class="lb">10</text>
<text x="438.6" y="1108.5" font-size="7.4" textLength="3.6" lengthAdjust="spacingAndGlyphs" class="lb">3</text>
<text x="455.8" y="1113.1" font-size="8.6" textLength="6.4" lengthAdjust="spacingAndGlyphs" class="lb">10</text>
<text x="462.8" y="1108.5" font-size="7.4" textLength="3.6" lengthAdjust="spacingAndGlyphs" class="lb">4</text>
<text x="464" y="1024.5" font-size="11.3" text-anchor="end">2.14</text>
<path d="M4.5,1120.6 H469" stroke="#000" stroke-width="1.9"/>
<path d="M463.8,1116.5 L470.6,1120.6 L463.8,1124.7" fill="none" stroke="#000" stroke-width="1.8"/>
</svg>
</body></html>
